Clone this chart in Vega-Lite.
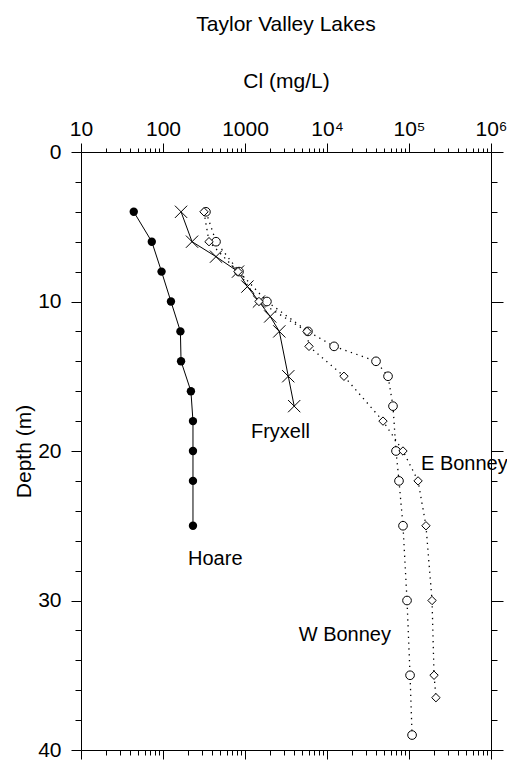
{
  "$schema": "https://vega.github.io/schema/vega-lite/v6.json",
  "autosize": {"type": "none"},
  "width": 410,
  "height": 598,
  "padding": {"left": 81, "top": 152, "right": 16, "bottom": 12},
  "background": "white",
  "config": {
    "font": "Liberation Sans",
    "view": {"stroke": null},
    "axis": {"grid": false, "domainColor": "black", "tickColor": "black", "labelColor": "black", "titleColor": "black", "labelFontSize": 21, "titleFontSize": 21, "titleFontWeight": "normal", "domainWidth": 1, "tickWidth": 1}
  },
  "title": {"text": "Taylor Valley Lakes", "fontSize": 21, "fontWeight": "normal", "anchor": "middle", "offset": 35, "color": "black"},
  "datasets": {
    "lakes": [
      {"lake": "Hoare", "depth": 4, "cl": 44},
      {"lake": "Hoare", "depth": 6, "cl": 73},
      {"lake": "Hoare", "depth": 8, "cl": 96},
      {"lake": "Hoare", "depth": 10, "cl": 125},
      {"lake": "Hoare", "depth": 12, "cl": 163},
      {"lake": "Hoare", "depth": 14, "cl": 166},
      {"lake": "Hoare", "depth": 16, "cl": 219},
      {"lake": "Hoare", "depth": 18, "cl": 232},
      {"lake": "Hoare", "depth": 20, "cl": 232},
      {"lake": "Hoare", "depth": 22, "cl": 232},
      {"lake": "Hoare", "depth": 25, "cl": 232},
      {"lake": "Fryxell", "depth": 4, "cl": 166},
      {"lake": "Fryxell", "depth": 6, "cl": 226},
      {"lake": "Fryxell", "depth": 7, "cl": 443},
      {"lake": "Fryxell", "depth": 8, "cl": 822},
      {"lake": "Fryxell", "depth": 9, "cl": 1070},
      {"lake": "Fryxell", "depth": 10, "cl": 1480},
      {"lake": "Fryxell", "depth": 11, "cl": 2030},
      {"lake": "Fryxell", "depth": 12, "cl": 2620},
      {"lake": "Fryxell", "depth": 15, "cl": 3370},
      {"lake": "Fryxell", "depth": 17, "cl": 3980},
      {"lake": "W Bonney", "depth": 4, "cl": 334},
      {"lake": "W Bonney", "depth": 6, "cl": 443},
      {"lake": "W Bonney", "depth": 8, "cl": 845},
      {"lake": "W Bonney", "depth": 10, "cl": 1850},
      {"lake": "W Bonney", "depth": 12, "cl": 5860},
      {"lake": "W Bonney", "depth": 13, "cl": 12200},
      {"lake": "W Bonney", "depth": 14, "cl": 39600},
      {"lake": "W Bonney", "depth": 15, "cl": 55500},
      {"lake": "W Bonney", "depth": 17, "cl": 63800},
      {"lake": "W Bonney", "depth": 20, "cl": 69400},
      {"lake": "W Bonney", "depth": 22, "cl": 75500},
      {"lake": "W Bonney", "depth": 25, "cl": 84500},
      {"lake": "W Bonney", "depth": 30, "cl": 94600},
      {"lake": "W Bonney", "depth": 35, "cl": 103000},
      {"lake": "W Bonney", "depth": 39, "cl": 109000},
      {"lake": "E Bonney", "depth": 4, "cl": 316},
      {"lake": "E Bonney", "depth": 6, "cl": 364},
      {"lake": "E Bonney", "depth": 8, "cl": 822},
      {"lake": "E Bonney", "depth": 10, "cl": 1480},
      {"lake": "E Bonney", "depth": 12, "cl": 5700},
      {"lake": "E Bonney", "depth": 13, "cl": 6030},
      {"lake": "E Bonney", "depth": 15, "cl": 16100},
      {"lake": "E Bonney", "depth": 18, "cl": 48200},
      {"lake": "E Bonney", "depth": 20, "cl": 84500},
      {"lake": "E Bonney", "depth": 22, "cl": 129000},
      {"lake": "E Bonney", "depth": 25, "cl": 161000},
      {"lake": "E Bonney", "depth": 30, "cl": 191000},
      {"lake": "E Bonney", "depth": 35, "cl": 202000},
      {"lake": "E Bonney", "depth": 36.5, "cl": 213000}
    ],
    "labels": [
      {"text": "Hoare", "depth": 27.6, "cl": 202},
      {"text": "Fryxell", "depth": 19.1, "cl": 1183},
      {"text": "E Bonney", "depth": 21.3, "cl": 140000},
      {"text": "W Bonney", "depth": 32.7, "cl": 4520}
    ]
  },
  "resolve": {"axis": {"x": "independent", "y": "independent"}},
  "layer": [
    {
      "data": {"name": "lakes"},
      "transform": [{"filter": "datum.lake == 'Hoare' || datum.lake == 'Fryxell'"}],
      "mark": {"type": "line", "color": "black", "strokeWidth": 1},
      "encoding": {
        "x": {"field": "cl", "type": "quantitative",
          "scale": {"type": "log", "domain": [10, 1000000], "nice": false},
          "axis": {"orient": "top", "title": "Cl (mg/L)", "labelFlush": false, "labelOverlap": false, "labelPadding": 4,
            "values": [10,20,30,40,50,60,70,80,90,100,200,300,400,500,600,700,800,900,1000,2000,3000,4000,5000,6000,7000,8000,9000,10000,20000,30000,40000,50000,60000,70000,80000,90000,100000,200000,300000,400000,500000,600000,700000,800000,900000,1000000],
            "labelExpr": "datum.value == 10 ? '10' : datum.value == 100 ? '100' : datum.value == 1000 ? '1000' : datum.value == 10000 ? '10⁴' : datum.value == 100000 ? '10⁵' : datum.value == 1000000 ? '10⁶' : ''",
            "tickSize": {"condition": {"test": "abs(log(datum.value)/LN10 - round(log(datum.value)/LN10)) < 0.001", "value": 9}, "value": 4},
            "titlePadding": 27}},
        "y": {"field": "depth", "type": "quantitative",
          "scale": {"domain": [0, 40], "reverse": true, "nice": false, "zero": false},
          "axis": {"orient": "left", "title": "Depth (m)", "labelOverlap": false, "labelPadding": 10,
            "values": [0,2,4,6,8,10,12,14,16,18,20,22,24,26,28,30,32,34,36,38,40],
            "labelExpr": "datum.value % 10 == 0 ? datum.label : ''",
            "tickSize": {"condition": {"test": "datum.value % 10 == 0", "value": 10}, "value": 6},
            "titlePadding": 3}},
        "detail": {"field": "lake"},
        "order": {"field": "depth", "type": "quantitative"}
      }
    },
    {
      "data": {"name": "lakes"},
      "transform": [{"filter": "datum.lake == 'W Bonney' || datum.lake == 'E Bonney'"}],
      "mark": {"type": "line", "color": "black", "strokeWidth": 1.3, "strokeDash": [1.3, 4.5]},
      "encoding": {
        "x": {"field": "cl", "type": "quantitative",
          "axis": {"orient": "bottom", "title": null, "labels": false,
            "values": [10,20,30,40,50,60,70,80,90,100,200,300,400,500,600,700,800,900,1000,2000,3000,4000,5000,6000,7000,8000,9000,10000,20000,30000,40000,50000,60000,70000,80000,90000,100000,200000,300000,400000,500000,600000,700000,800000,900000,1000000],
            "tickSize": {"condition": {"test": "abs(log(datum.value)/LN10 - round(log(datum.value)/LN10)) < 0.001", "value": 9}, "value": 5}}},
        "y": {"field": "depth", "type": "quantitative",
          "axis": {"orient": "right", "title": null, "labels": false,
            "values": [0,2,4,6,8,10,12,14,16,18,20,22,24,26,28,30,32,34,36,38,40],
            "tickSize": {"condition": {"test": "datum.value % 10 == 0", "value": 12}, "value": 6}}},
        "detail": {"field": "lake"},
        "order": {"field": "depth", "type": "quantitative"}
      }
    },
    {
      "data": {"name": "lakes"},
      "transform": [{"filter": "datum.lake == 'Hoare'"}],
      "mark": {"type": "point", "shape": "circle", "filled": true, "color": "black", "size": 70, "opacity": 1},
      "encoding": {
        "x": {"field": "cl", "type": "quantitative", "axis": null},
        "y": {"field": "depth", "type": "quantitative", "axis": null}
      }
    },
    {
      "data": {"name": "lakes"},
      "transform": [{"filter": "datum.lake == 'Fryxell'"}],
      "mark": {"type": "point", "shape": "M-1,-1L1,1M-1,1L1,-1", "filled": false, "stroke": "black", "strokeWidth": 1, "size": 150, "opacity": 1},
      "encoding": {
        "x": {"field": "cl", "type": "quantitative", "axis": null},
        "y": {"field": "depth", "type": "quantitative", "axis": null}
      }
    },
    {
      "data": {"name": "lakes"},
      "transform": [{"filter": "datum.lake == 'W Bonney'"}],
      "mark": {"type": "point", "shape": "circle", "filled": true, "fill": "white", "stroke": "black", "strokeWidth": 1, "size": 75, "opacity": 1},
      "encoding": {
        "x": {"field": "cl", "type": "quantitative", "axis": null},
        "y": {"field": "depth", "type": "quantitative", "axis": null}
      }
    },
    {
      "data": {"name": "lakes"},
      "transform": [{"filter": "datum.lake == 'E Bonney'"}],
      "mark": {"type": "point", "shape": "diamond", "filled": true, "fill": "white", "stroke": "black", "strokeWidth": 1, "size": 70, "opacity": 1},
      "encoding": {
        "x": {"field": "cl", "type": "quantitative", "axis": null},
        "y": {"field": "depth", "type": "quantitative", "axis": null}
      }
    },
    {
      "data": {"name": "labels"},
      "mark": {"type": "text", "align": "left", "baseline": "alphabetic", "fontSize": 20, "color": "black"},
      "encoding": {
        "x": {"field": "cl", "type": "quantitative", "axis": null},
        "y": {"field": "depth", "type": "quantitative", "axis": null},
        "text": {"field": "text"}
      }
    }
  ]
}
